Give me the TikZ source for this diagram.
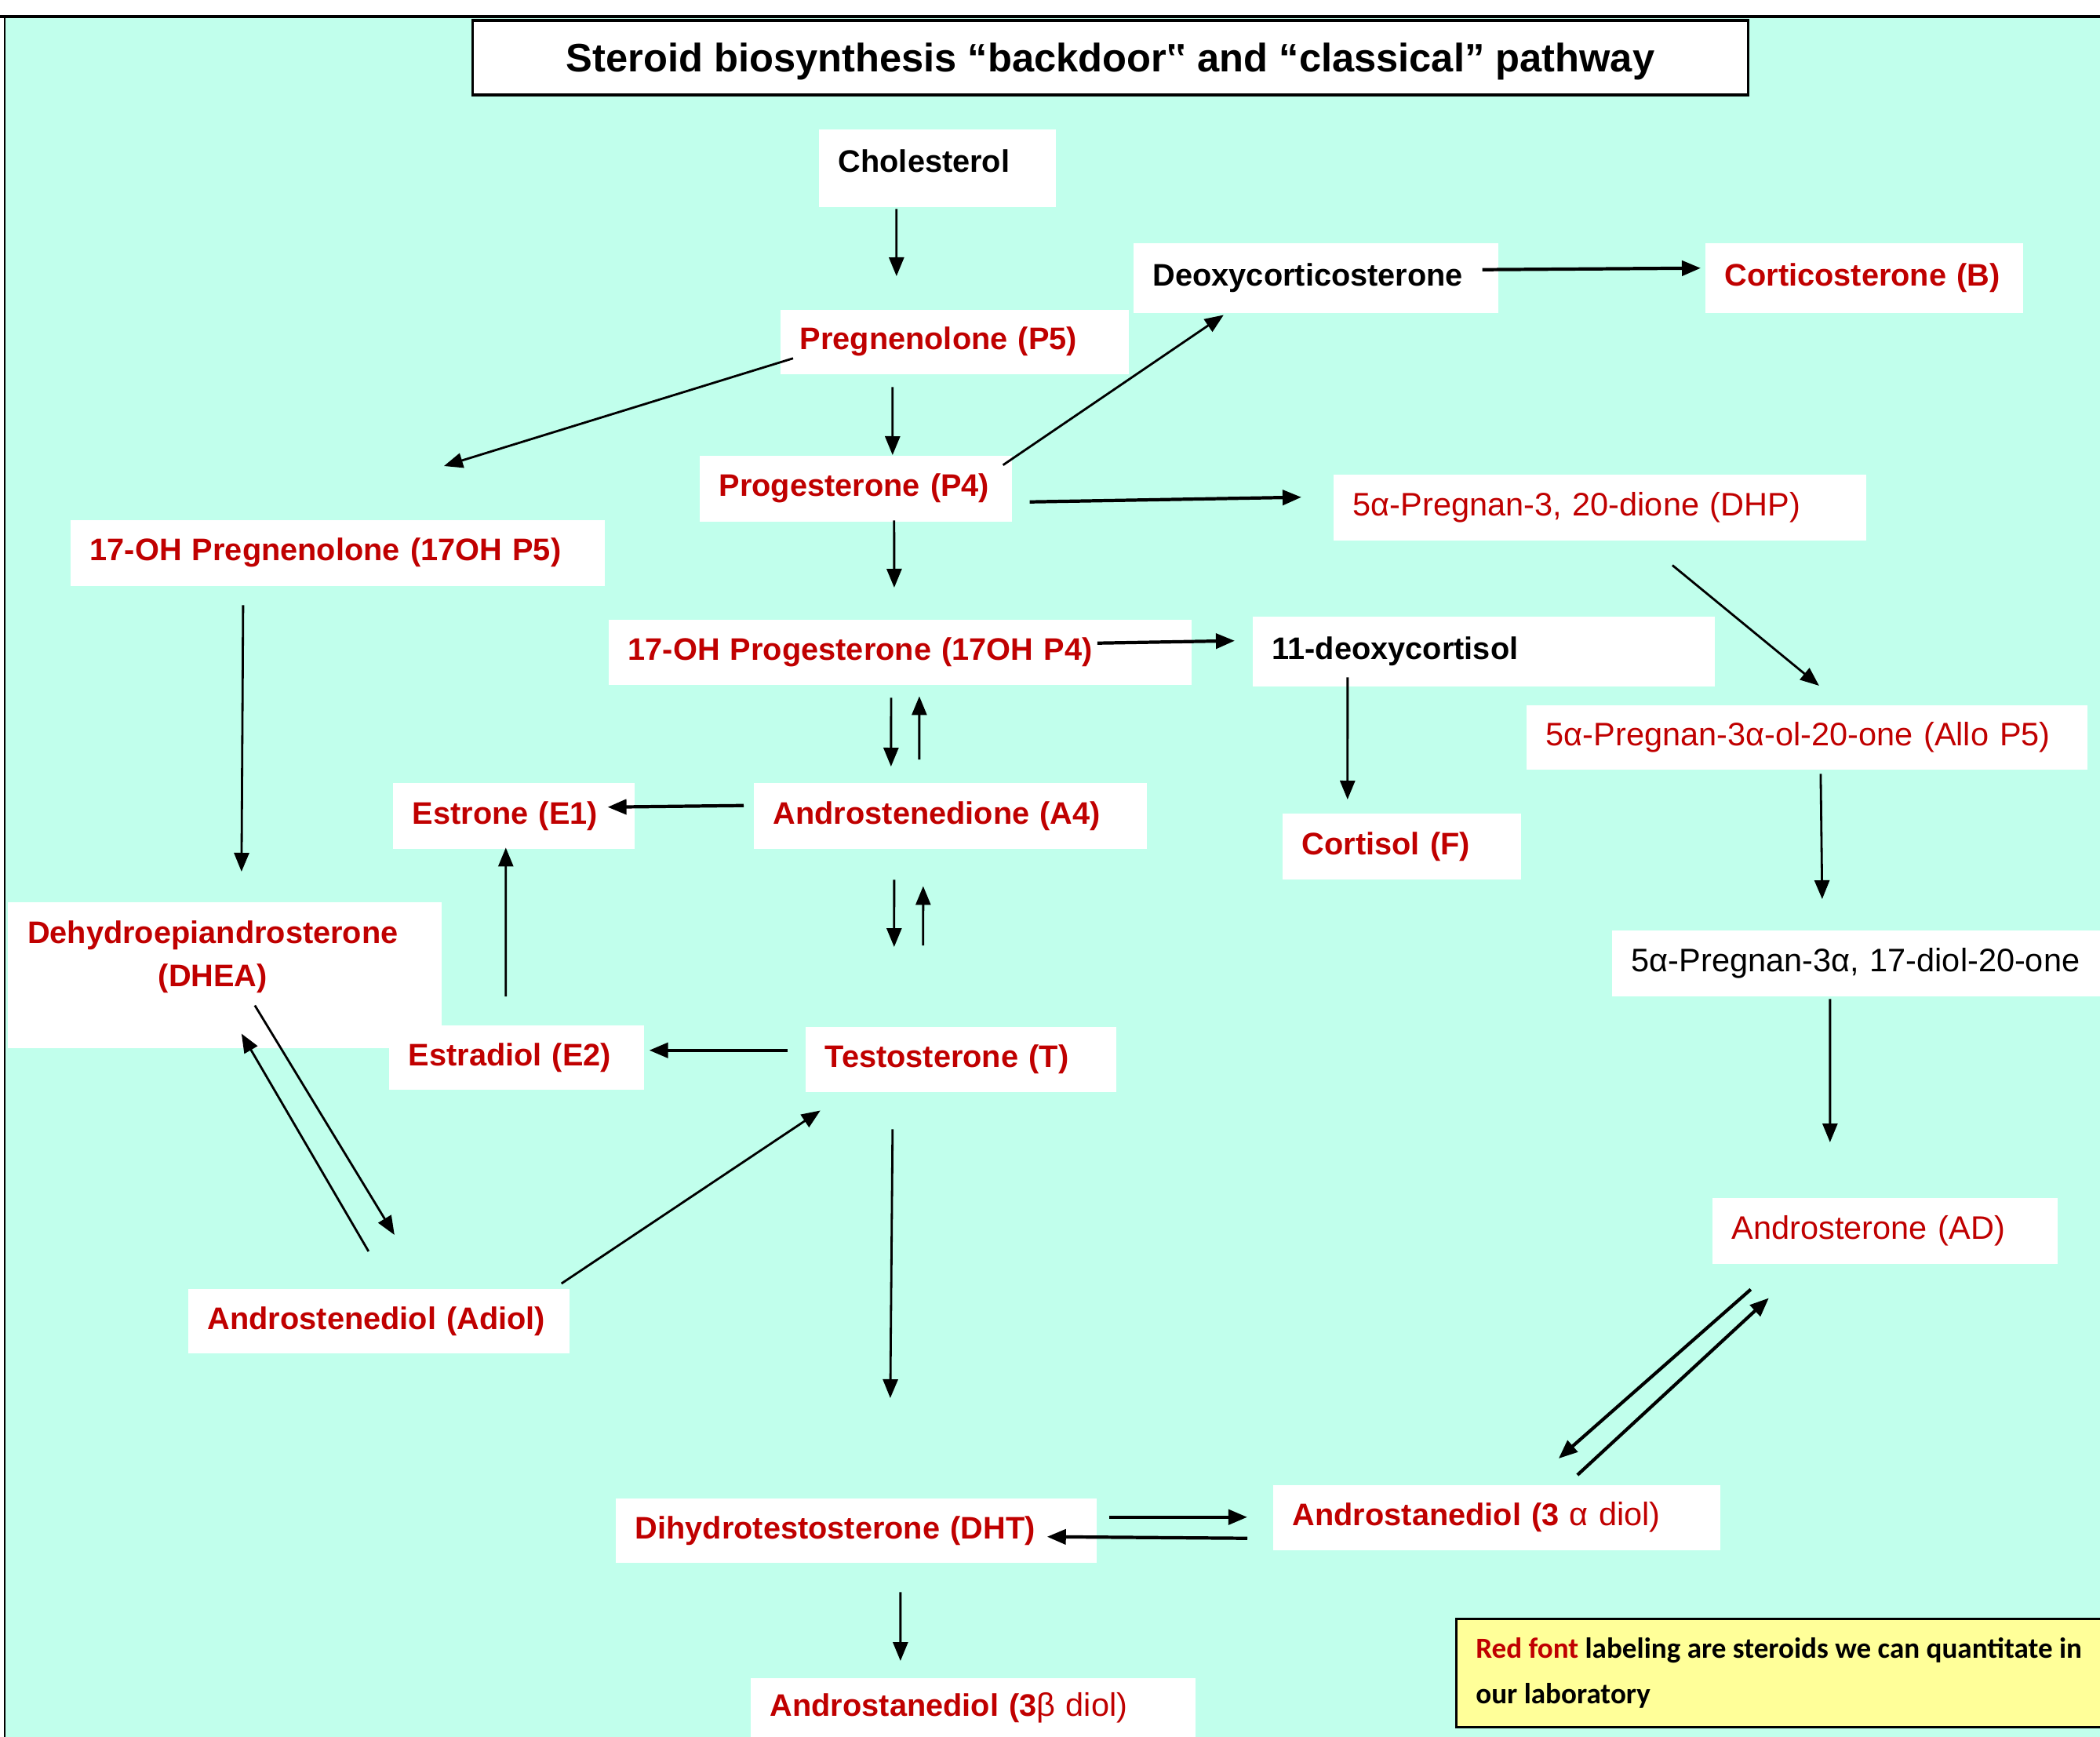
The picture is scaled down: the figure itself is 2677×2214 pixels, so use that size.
\documentclass[tikz,border=0pt]{standalone}
\usepackage{fontspec}
\setmainfont{Liberation Sans}
\newfontfamily\legendfont{Carlito}
\usepackage{tikz}
\usetikzlibrary{arrows.meta,positioning,calc}
\usepackage{xcolor}

\definecolor{ptred}{RGB}{192,0,0}
\definecolor{mint}{RGB}{193,255,236}
\definecolor{keyyellow}{RGB}{255,255,153}

\newcommand{\nodefont}{\fontsize{11.3}{13.5}\selectfont}
\newcommand{\lightfont}{\mdseries\fontsize{11.8}{13.5}\selectfont}

\tikzset{
    box/.style={fill=white, anchor=north west, inner xsep=0.25cm, inner ysep=0pt, align=left},
    cmpd/.style={box, text=ptred, font=\bfseries\nodefont},
    cmpdlight/.style={box, text=ptred, font=\lightfont},
    other/.style={box, text=black, font=\bfseries\nodefont},
    otherlight/.style={box, text=black, font=\lightfont},
    titlebox/.style={draw, line width=1pt, fill=white, minimum width=16.25cm, minimum height=0.95cm, font=\bfseries\fontsize{14.4}{17}\selectfont},
    keybox/.style={draw, line width=0.8pt, fill=keyyellow, anchor=north west, minimum width=8.22cm, minimum height=1.38cm, inner xsep=0.16cm, align=left, font=\legendfont\bfseries\fontsize{10.55}{16.5}\selectfont},
    arr/.style={-{Triangle[length=0.24cm,width=0.19cm]}, line width=0.8pt},
    thickarr/.style={arr, line width=1.2pt},
}

\begin{document}
\begin{tikzpicture}[x=0.01cm, y=-0.01cm]
    \useasboundingbox (0,0) rectangle (2677,2214);

    % Background and frame
    \fill[white] (0,0) rectangle (2677,2214);
    \fill[mint] (6,21) rectangle (2677,2214);
    \draw[line width=1pt] (0,21) -- (2677,21);
    \draw[line width=0.6pt] (6,21) -- (6,2214);

    % Title
    \node[titlebox] (title) at (1415.5,73.5) {\raisebox{-0.05cm}[\height][\depth]{Steroid biosynthesis “backdoor‟ and “classical” pathway}};

    % Steroids
    \node[other, text width=2.52cm, minimum height=0.99cm] (chol) at (1043,164) {\raisebox{0.09cm}[\height][\depth]{Cholesterol}};
    \node[other, text width=4.15cm, minimum height=0.89cm] (doc) at (1444,309) {Deoxycorticosterone};
    \node[cmpd, text width=3.55cm, minimum height=0.89cm] (cortb) at (2173,309) {Corticosterone (B)};
    \node[cmpd, text width=3.94cm, minimum height=0.82cm] (preg) at (994,394) {Pregnenolone (P5)};
    \node[cmpd, text width=3.48cm, minimum height=0.84cm] (prog) at (891,580) {Progesterone (P4)};
    \node[cmpdlight, text width=6.29cm, minimum height=0.84cm] (dhp) at (1699,604) {5α-Pregnan-3, 20-dione (DHP)};
    \node[cmpd, text width=6.31cm, minimum height=0.84cm] (ohpfive) at (89,662) {17-OH Pregnenolone (17OH P5)};
    \node[cmpd, text width=6.93cm, minimum height=0.83cm] (ohpfour) at (775,789) {17-OH Progesterone (17OH P4)};
    \node[other, text width=5.39cm, minimum height=0.89cm] (doxc) at (1596,785) {11-deoxycortisol};
    \node[cmpdlight, text width=6.65cm, minimum height=0.82cm] (allo) at (1945,898) {5α-Pregnan-3α-ol-20-one (Allo P5)};
    \node[cmpd, text width=2.58cm, minimum height=0.84cm] (eone) at (500,997) {Estrone (E1)};
    \node[cmpd, text width=4.51cm, minimum height=0.84cm] (afour) at (960,997) {Androstenedione (A4)};
    \node[cmpd, text width=2.54cm, minimum height=0.84cm] (cortf) at (1634,1036) {Cortisol (F)};
    \node[cmpd, align=center, text width=5.03cm, minimum height=1.86cm, font=\bfseries\fontsize{11.3}{15.6}\selectfont] (dhea) at (9,1149) {Dehydroepiandrosterone\hspace*{0.3cm}\mbox{}\\(DHEA)\hspace*{0.3cm}\mbox{}\\[-0.17cm]\strut};
    \node[otherlight, text width=5.73cm, minimum height=0.84cm] (diolsvt) at (2054,1185) {5α-Pregnan-3α, 17-diol-20-one};
    \node[cmpd, text width=2.75cm, minimum height=0.82cm] (etwo) at (495,1306) {Estradiol (E2)};
    \node[cmpd, text width=3.46cm, minimum height=0.83cm] (testo) at (1026,1308) {Testosterone (T)};
    \node[cmpdlight, text width=3.90cm, minimum height=0.84cm] (andro) at (2182,1526) {Androsterone (AD)};
    \node[cmpd, text width=4.36cm, minimum height=0.82cm] (adiol) at (239,1642) {Androstenediol (Adiol)};
    \node[cmpd, text width=5.20cm, minimum height=0.83cm] (dioltha) at (1622,1892) {Androstanediol (3 {\lightfont α diol)}};
    \node[cmpd, text width=5.63cm, minimum height=0.82cm] (dht) at (784,1909) {Dihydrotestosterone (DHT)};
    \node[cmpd, text width=5.17cm, minimum height=0.76cm] (diolthb) at (956,2138) {Androstanediol (3{\lightfont β diol)}};

    % Key
    \node[keybox] (key) at (1855,2062) {\textcolor{ptred}{Red font} labeling are steroids we can quantitate in\\our laboratory};

    % Classical pathway
    \draw[arr] ([shift={(-52,2)}]chol.south) -- ([shift={(-74,-42)}]preg.north);
    \draw[arr] ([shift={(17,21)}]preg.west) -- ([shift={(135.5,-68)}]ohpfive.north);
    \draw[arr] ([shift={(-79,16)}]preg.south) -- ([shift={(47,0)}]prog.north);
    \draw[arr] ([shift={(-12,-30)}]prog.east) -- ([shift={(-117.5,2)}]doc.south);
    \draw[thickarr] ([shift={(-21,-10.5)}]doc.east) -- ([shift={(-5,-12.5)}]cortb.west);
    \draw[thickarr] ([shift={(22,17)}]prog.east) -- ([shift={(-40,-13)}]dhp.west);
    \draw[arr] ([shift={(49,-2)}]prog.south) -- ([shift={(-7.5,-40)}]ohpfour.north);
    \draw[arr] ([shift={(-120.5,24)}]ohpfive.south) -- ([shift={(21.5,-38)}]dhea.north);
    \draw[thickarr] ([shift={(-121,-11.5)}]ohpfour.east) -- ([shift={(-22,-13.5)}]doxc.west);
    \draw[arr] ([shift={(-173.5,-12)}]doxc.south) -- ([shift={(-69,-17)}]cortf.north);
    \draw[arr] ([shift={(-11.5,16)}]ohpfour.south) -- ([shift={(-75.5,-20)}]afour.north);
    \draw[arr] ([shift={(-39.5,-29)}]afour.north) -- ([shift={(24.5,14)}]ohpfour.south);
    \draw[thickarr] ([shift={(-12,-13)}]afour.west) -- ([shift={(-35,-11)}]eone.east);
    \draw[arr] ([shift={(-71.5,39)}]afour.south) -- ([shift={(-85,-101)}]testo.north);
    \draw[arr] ([shift={(-48,-103)}]testo.north) -- ([shift={(-34.5,47)}]afour.south);
    \draw[arr] ([shift={(-13.5,-36)}]etwo.north) -- ([shift={(-10,-2)}]eone.south);
    \draw[thickarr] ([shift={(-22,-11.5)}]testo.west) -- ([shift={(6,-9)}]etwo.east);
    \draw[arr] ([shift={(38.5,-55)}]dhea.south) -- ([shift={(20,-68)}]adiol.north);
    \draw[arr] ([shift={(-13,-47)}]adiol.north) -- ([shift={(21.5,-19)}]dhea.south);
    \draw[arr] ([shift={(-11,-6)}]adiol.north east) -- ([shift={(-179,23)}]testo.south);
    \draw[arr] ([shift={(-87,47)}]testo.south) -- ([shift={(43.5,-127)}]dht.north);
    \draw[arr] ([shift={(56.5,37)}]dht.south) -- ([shift={(-92.5,-21)}]diolthb.north);

    % Backdoor pathway
    \draw[arr] ([shift={(92.5,31)}]dhp.south) -- ([shift={(15.5,-24)}]allo.north);
    \draw[arr] ([shift={(17.5,5)}]allo.south) -- ([shift={(-43.5,-39)}]diolsvt.north);
    \draw[arr] ([shift={(-33.5,3)}]diolsvt.south) -- ([shift={(-70,-70)}]andro.north);
    \draw[thickarr] ([shift={(-171,32)}]andro.south) -- ([shift={(79,-33)}]dioltha.north);
    \draw[thickarr] ([shift={(103,-12)}]dioltha.north) -- ([shift={(-148,43)}]andro.south);
    \draw[thickarr] ([shift={(15,-17)}]dht.east) -- ([shift={(-32,-0.5)}]dioltha.west);
    \draw[thickarr] ([shift={(-32,26.5)}]dioltha.west) -- ([shift={(-64,8)}]dht.east);

\end{tikzpicture}
\end{document}
